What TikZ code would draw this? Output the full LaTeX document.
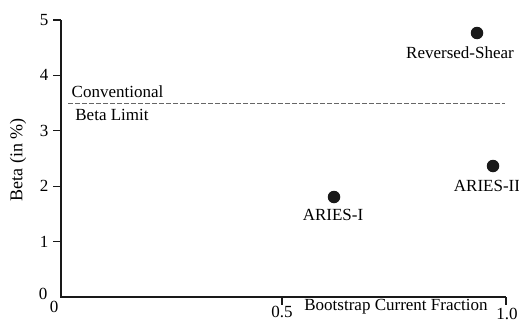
\documentclass[tikz,border=0pt]{standalone}
\usepackage{fontspec}
\setmainfont{Liberation Serif}
\begin{document}
\begin{tikzpicture}[x=1pt,y=-1pt,
  lbl/.style={font=\fontsize{17}{20}\selectfont, inner sep=0pt, text=black},
  dot/.style={circle, fill=black!90, minimum size=12.5pt, inner sep=0pt},
  axis/.style={line width=1.4pt, black!90},
  tick/.style={line width=1.1pt, black!90},
  limit/.style={line width=1pt, black!60, dash pattern=on 5pt off 2pt}]
\useasboundingbox (0,0) rectangle (519,324);
% axes
\coordinate (Ytop) at (61,20);
\coordinate (O) at (61,297);
\coordinate (Xend) at (506,297);
\draw[axis] (Ytop) -- (O) -- (Xend);
% y ticks and labels
\foreach \i in {1,...,5} {
  \coordinate (yt\i) at (61,{297-55.4*\i});
  \draw[tick] (yt\i) -- ++(-8,0);
  \node[lbl] (yl\i) at (44,{297-55.4*\i}) {\i};
}
\node[lbl] (yl0) at (43,294) {0};
% x ticks and labels
\coordinate (xt1) at (282,297);
\coordinate (xt2) at (506,297);
\draw[tick] (xt1) -- ++(0,8);
\draw[tick] (xt2) -- ++(0,8);
\node[lbl] (xl0) at (54,307) {0};
\node[lbl] (xl1) at (282,312) {0.5};
\node[lbl] (xl2) at (507,314) {1.0};
\node[lbl] (xlab) at (396,307) {Bootstrap Current Fraction};
\node[lbl, font=\fontsize{18}{21}\selectfont, rotate=90] (ylab) at (18,160) {Beta (in \%)};
% beta limit
\coordinate (L1) at (68,103.5);
\coordinate (L2) at (505,103.5);
\draw[limit] (L1) -- (L2);
\node[lbl] (conv) at (117.5,92) {Conventional};
\node[lbl] (blim) at (112,115) {Beta Limit};
% data points
\node[dot] (rs) at (477,33) {};
\node[lbl] (rsl) at (460,53) {Reversed-Shear};
\node[dot] (a2) at (493,166) {};
\node[lbl] (a2l) at (487,186) {ARIES-II};
\node[dot] (a1) at (334,197) {};
\node[lbl] (a1l) at (333,215) {ARIES-I};
\end{tikzpicture}
\end{document}
